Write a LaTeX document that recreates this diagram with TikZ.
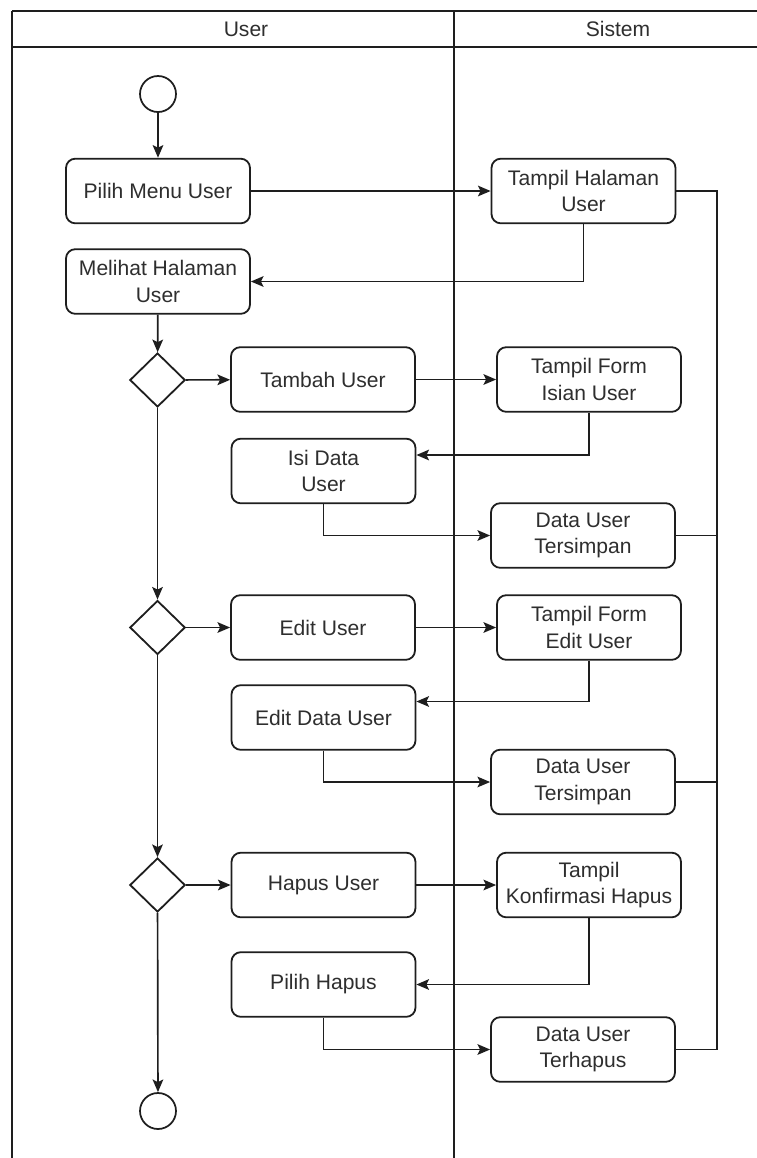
\documentclass[tikz,border=0pt]{standalone}
\usepackage{fontspec}
\setmainfont{Liberation Sans}
\usetikzlibrary{arrows.meta,shapes.geometric,calc}

\definecolor{ink}{HTML}{1E1E1E}
\definecolor{txt}{HTML}{2E2E2E}

\tikzset{
  lane/.style={draw=ink, line width=1.2pt},
  act/.style={draw=ink, line width=1.35pt, rounded corners=7pt, fill=white,
    minimum width=138pt, minimum height=48.5pt, align=center, inner sep=2pt,
    text=txt, font=\fontsize{15.8}{20}\selectfont},
  decision/.style={draw=ink, line width=1.35pt, diamond, fill=white,
    minimum width=41.5pt, minimum height=40.5pt, inner sep=0pt},
  terminal/.style={draw=ink, line width=1.3pt, circle, fill=white,
    minimum size=27pt, inner sep=0pt},
  flow/.style={draw=ink, line width=1.25pt,
    -{Stealth[length=9.5pt,width=8pt,inset=2pt]}},
  bus/.style={draw=ink, line width=1.25pt},
  lanetitle/.style={text=txt, font=\fontsize{15.8}{20}\selectfont}
}

\begin{document}
\begin{tikzpicture}[x=0.75pt, y=-0.75pt]
  \useasboundingbox (0,0) rectangle (757,1158);
  \fill[white] (0,0) rectangle (757,1158);

  % swimlanes
  \draw[lane] (12,11) -- (757,11);
  \draw[lane] (12,47) -- (757,47);
  \draw[lane] (12,11) -- (12,1160);
  \draw[lane] (454,11) -- (454,1160);
  \node[lanetitle] (laneuser) at (246,29) {User};
  \node[lanetitle] (lanesys) at (618,29) {Sistem};

  % start / end
  \node[terminal] (start) at (158,94) {};
  \node[terminal] (end) at (158,1111) {};

  % user lane activities
  \node[act] (pm) at (158,191) {Pilih Menu User};
  \node[act] (mh) at (158,281.5) {Melihat Halaman\\User};
  \node[decision] (d1) at (157.5,380) {};
  \node[act] (tu) at (323,379.5) {Tambah User};
  \node[act] (id) at (323.5,471) {Isi Data\\User};
  \node[decision] (d2) at (157.5,627.5) {};
  \node[act] (eu) at (323,627.5) {Edit User};
  \node[act] (ed) at (323.5,717.5) {Edit Data User};
  \node[decision] (d3) at (157.5,885) {};
  \node[act] (hu) at (323.5,885) {Hapus User};
  \node[act] (ph) at (323.5,984.5) {Pilih Hapus};

  % system lane activities
  \node[act] (th) at (583.5,191) {Tampil Halaman\\User};
  \node[act] (tfi) at (589,379.5) {Tampil Form\\Isian User};
  \node[act] (dt1) at (583,535.5) {Data User\\Tersimpan};
  \node[act] (tfe) at (589,627.5) {Tampil Form\\Edit User};
  \node[act] (dt2) at (583,782) {Data User\\Tersimpan};
  \node[act] (kh) at (589,885) {Tampil\\Konfirmasi Hapus};
  \node[act] (dth) at (583,1049.5) {Data User\\Terhapus};

  % main flow
  \draw[flow] (start) -- (pm);
  \draw[flow] (pm) -- (th);
  \draw[flow] (th.south) |- (mh.east);
  \draw[flow] (mh) -- (d1);

  % tambah
  \draw[flow] (d1) -- (tu);
  \draw[flow] (tu) -- (tfi);
  \draw[flow] (tfi.south) |- ([yshift=12pt]id.east);
  \draw[flow] (id.south) |- (dt1.west);
  \draw[flow] (d1) -- (d2);

  % edit
  \draw[flow] (d2) -- (eu);
  \draw[flow] (eu) -- (tfe);
  \draw[flow] (tfe.south) |- ([yshift=12pt]ed.east);
  \draw[flow] (ed.south) |- (dt2.west);
  \draw[flow] (d2) -- (d3);

  % hapus
  \draw[flow] (d3) -- (hu);
  \draw[flow] (hu) -- (kh);
  \draw[flow] (kh.south) |- (ph.east);
  \draw[flow] (ph.south) |- (dth.west);
  \draw[flow] (d3) -- (end);

  % collector on the right of the system lane
  \coordinate (bustop) at (717,191);
  \draw[bus] (th.east) -- (bustop) -- (bustop |- dth.east) -- (dth.east);
  \draw[bus] (dt1.east) -- (dt1.east -| bustop);
  \draw[bus] (dt2.east) -- (dt2.east -| bustop);
\end{tikzpicture}
\end{document}
